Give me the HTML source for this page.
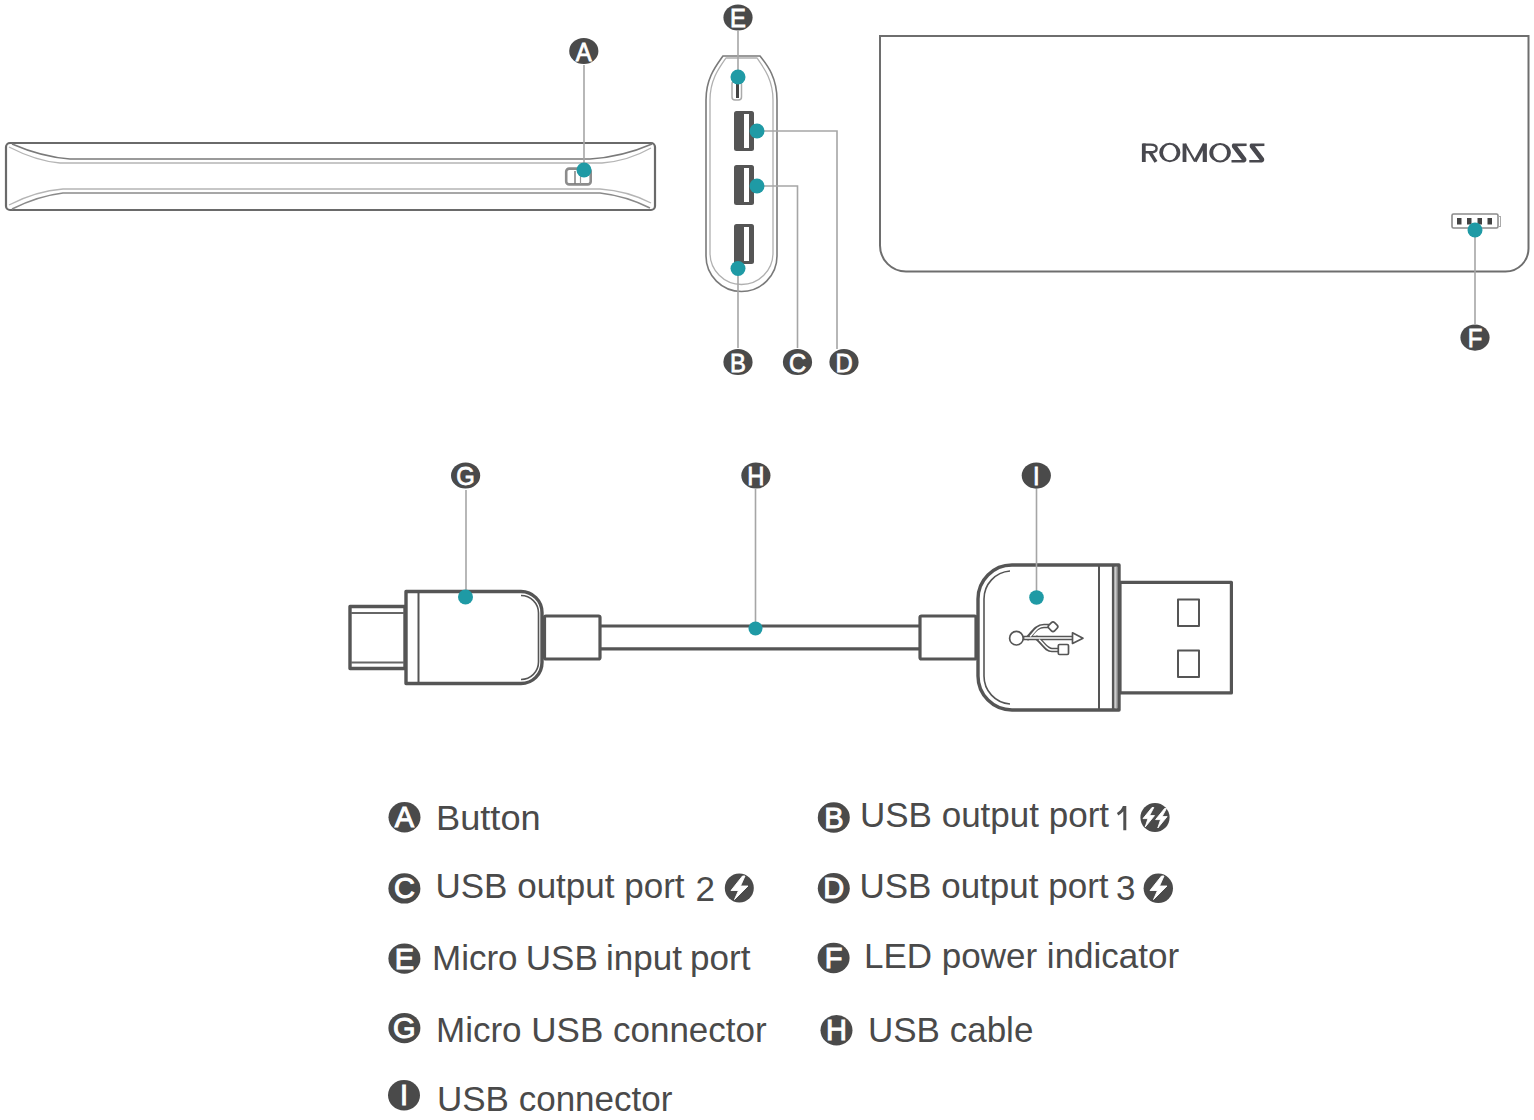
<!DOCTYPE html>
<html><head><meta charset="utf-8">
<style>
html,body{margin:0;padding:0;background:#fff;width:1534px;height:1120px;overflow:hidden;}
svg{display:block;font-family:"Liberation Sans",sans-serif;}
.ln{stroke:#a6a6a6;stroke-width:1.6;fill:none;}
.lc{fill:#4a4a4a;}
.lt{fill:#fff;font-size:26.5px;text-anchor:middle;stroke:#fff;stroke-width:0.8;}
.dot{fill:#1f9aa5;}
.leg{fill:#4a4a4a;font-size:35px;}
.lg{fill:#4a4a4a;}
.lgt{fill:#fff;font-size:29px;text-anchor:middle;stroke:#fff;stroke-width:1.0;}
</style></head>
<body>
<svg width="1534" height="1120" viewBox="0 0 1534 1120">

<!-- ===== Left side bar ===== -->
<g id="bar" fill="none">
  <rect x="6" y="143" width="649" height="67" rx="4" stroke="#6a6a6a" stroke-width="2.2"/>
  <path d="M12 144 Q42 157 70 159 L590 159 Q622 157 652 144" stroke="#7a7a7a" stroke-width="1.6"/>
  <path d="M9 147 Q36 161 60 163 L602 163 Q628 161 651 148" stroke="#b5b5b5" stroke-width="1.4"/>
  <path d="M12 209 Q38 196 63 193 L600 193 Q626 196 650 208" stroke="#8a8a8a" stroke-width="1.6"/>
  <path d="M9 205 Q36 191 63 189 L600 189 Q628 191 651 203" stroke="#b5b5b5" stroke-width="1.4"/>
  <rect x="566.2" y="168.6" width="24.5" height="15.8" rx="3" stroke="#8c8c8c" stroke-width="2.6"/>
  <line x1="575" y1="171" x2="575" y2="184" stroke="#777" stroke-width="1.4"/>
  <line x1="580.5" y1="176" x2="580.5" y2="184" stroke="#999" stroke-width="1.2"/>
</g>
<line class="ln" x1="584" y1="65" x2="584" y2="170"/>
<circle class="dot" cx="584" cy="170" r="7.5"/>
<ellipse class="lc" cx="583.8" cy="51.0" rx="14.6" ry="13.1"/><text class="lt" transform="translate(583.8,60.8) scale(0.9,1)">A</text>

<!-- ===== Middle end view ===== -->
<g fill="none">
  <path d="M706 100 C706 78 716 66 723 56 L760 56 C768 66 777 78 777 100 L777 256 A35.5 35.5 0 0 1 706 256 Z" stroke="#7a7a7a" stroke-width="1.6"/>
  <path d="M710 100 C710 80 719 68 726 58 L757 58 C764 68 773 80 773 100 L773 253 A31.5 31.5 0 0 1 710 253 Z" stroke="#b0b0b0" stroke-width="1.3"/>
</g>
<!-- ports -->
<rect x="732" y="81" width="9.5" height="19" rx="3" fill="none" stroke="#aaa" stroke-width="1.5"/>
<rect x="736" y="84" width="3" height="14" fill="#444"/>
<g>
  <rect x="734" y="111" width="20" height="40" rx="2.5" fill="#555"/>
  <rect x="744" y="114" width="5" height="34" fill="#fff"/>
  <rect x="734" y="165" width="20" height="40" rx="2.5" fill="#555"/>
  <rect x="744" y="168" width="5" height="34" fill="#fff"/>
  <rect x="734" y="224" width="20" height="40" rx="2.5" fill="#555"/>
  <rect x="744" y="227" width="5" height="34" fill="#fff"/>
</g>
<line class="ln" x1="738" y1="31" x2="738" y2="77"/>
<polyline class="ln" points="757,131 837,131 837,349"/>
<polyline class="ln" points="757,186 797.5,186 797.5,348"/>
<line class="ln" x1="738" y1="268" x2="738" y2="348"/>
<circle class="dot" cx="738" cy="77" r="7.5"/>
<circle class="dot" cx="757" cy="131" r="7.5"/>
<circle class="dot" cx="757" cy="186" r="7.5"/>
<circle class="dot" cx="738" cy="268.5" r="7.5"/>
<ellipse class="lc" cx="738.0" cy="17.5" rx="14.6" ry="13.1"/><text class="lt" transform="translate(738.0,27.3) scale(0.9,1)">E</text>
<ellipse class="lc" cx="738.0" cy="362.0" rx="14.6" ry="13.1"/><text class="lt" transform="translate(738.0,371.8) scale(0.9,1)">B</text>
<ellipse class="lc" cx="797.5" cy="362.0" rx="14.6" ry="13.1"/><text class="lt" transform="translate(797.5,371.8) scale(0.9,1)">C</text>
<ellipse class="lc" cx="844.0" cy="362.0" rx="14.6" ry="13.1"/><text class="lt" transform="translate(844.0,371.8) scale(0.9,1)">D</text>

<!-- ===== Right front view ===== -->
<path d="M880 36 L1528.5 36 L1528.5 248 A23 23 0 0 1 1505.5 271.5 L906 271.5 A26 26 0 0 1 880 245.5 Z" fill="none" stroke="#6e6e6e" stroke-width="2"/>
<g fill="none" stroke="#48484e" stroke-linecap="butt">
  <line x1="1143.8" y1="143.5" x2="1143.8" y2="162" stroke-width="3.8"/>
  <path d="M1143 144.6 L1150.5 144.6 Q1156.6 144.6 1156.6 148.4 Q1156.6 152.2 1150.5 152.2 L1143 152.2" stroke-width="2.4"/>
  <line x1="1149.8" y1="152" x2="1156" y2="161.8" stroke-width="3.4"/>
  <path fill="#48484e" stroke="none" fill-rule="evenodd" d="M1159.2 152.5 A10.6 9.7 0 1 0 1180.4 152.5 A10.6 9.7 0 1 0 1159.2 152.5 Z M1163 152.5 A6.8 7.7 0 1 0 1176.6 152.5 A6.8 7.7 0 1 0 1163 152.5 Z"/>
  <line x1="1184.5" y1="143.5" x2="1184.5" y2="162" stroke-width="3.8"/>
  <line x1="1185" y1="144" x2="1195" y2="161.5" stroke-width="2.2"/>
  <line x1="1195" y1="161.5" x2="1204.5" y2="144" stroke-width="3.4"/>
  <line x1="1204.8" y1="143.5" x2="1204.8" y2="162" stroke-width="4.2"/>
  <path fill="#48484e" stroke="none" fill-rule="evenodd" d="M1209.3 152.7 A10.8 9.7 0 1 0 1230.9 152.7 A10.8 9.7 0 1 0 1209.3 152.7 Z M1213.2 152.7 A6.9 7.7 0 1 0 1227 152.7 A6.9 7.7 0 1 0 1213.2 152.7 Z"/>
  <path id="zs" fill="#48484e" stroke="none" d="M1233 143.6 L1246.6 143.6 L1246.6 145.9 L1237.2 146.2 L1246.2 158.2 Q1247.2 161.4 1244.2 162.4 L1231.5 162.4 L1231.5 160.1 L1241.8 160.1 L1232.2 147.6 Q1231.2 144.6 1233 143.6 Z"/>
  <use href="#zs" transform="translate(17.8,0)"/>
</g>
<!-- battery indicator -->
<rect x="1452" y="214" width="46" height="14" rx="1.5" fill="none" stroke="#8a8a8a" stroke-width="1.6"/>
<rect x="1498" y="216.5" width="2.5" height="10" fill="none" stroke="#aaa" stroke-width="1"/>
<rect x="1457" y="218" width="4.5" height="6.5" fill="#444"/>
<rect x="1467" y="218" width="4.5" height="6.5" fill="#444"/>
<rect x="1477.5" y="218" width="4.5" height="6.5" fill="#444"/>
<rect x="1487.5" y="218" width="4.5" height="6.5" fill="#444"/>
<line class="ln" x1="1475" y1="230" x2="1475" y2="324"/>
<circle class="dot" cx="1475" cy="230" r="7.5"/>
<ellipse class="lc" cx="1475.0" cy="337.6" rx="14.6" ry="13.1"/><text class="lt" transform="translate(1475.0,347.4) scale(0.9,1)">F</text>

<!-- ===== Cable ===== -->
<g fill="none" stroke="#555" stroke-linejoin="round">
  <!-- micro tip -->
  <rect x="350" y="606.5" width="55" height="62" stroke-width="3.4"/>
  <line x1="351" y1="613" x2="405" y2="613" stroke-width="2" stroke="#666"/>
  <line x1="351" y1="662.5" x2="405" y2="662.5" stroke-width="2" stroke="#666"/>
  <!-- micro body -->
  <path d="M406 591.5 L521 591.5 A21 21 0 0 1 542 612.5 L542 662.5 A21 21 0 0 1 521 683.5 L406 683.5 Z" stroke-width="3.4"/>
  <line x1="418.5" y1="592" x2="418.5" y2="683" stroke-width="2"/>
  <path d="M521 595.5 A17.5 17.5 0 0 1 538.5 613 L538.5 662 A17.5 17.5 0 0 1 521 679.5" stroke-width="1.6"/>
  <!-- strain relief L -->
  <rect x="544.5" y="616" width="55.5" height="43" rx="1.5" stroke-width="3.2"/>
  <!-- cable -->
  <line x1="600" y1="626" x2="920" y2="626" stroke-width="3.2"/>
  <line x1="600" y1="648.8" x2="920" y2="648.8" stroke-width="3.2"/>
  <!-- strain relief R -->
  <rect x="920" y="616" width="56" height="43" rx="1.5" stroke-width="3.2"/>
  <!-- usb body -->
  <path d="M1119 565 L1012 565 A34 34 0 0 0 978 599 L978 676 A34 34 0 0 0 1012 710 L1119 710 Z" stroke-width="3.4"/>
  <path d="M1010 571 A28 28 0 0 0 984 599 L984 676 A28 28 0 0 0 1010 704" stroke-width="1.6"/>
  <line x1="1099" y1="566" x2="1099" y2="709" stroke-width="2"/>
  <line x1="1113.2" y1="566" x2="1113.2" y2="709" stroke-width="2.6"/>
  <line x1="1116.2" y1="567" x2="1116.2" y2="708" stroke-width="1.6" stroke="#aaa"/>
  <!-- usb metal -->
  <rect x="1120" y="582.3" width="111.4" height="110.6" stroke-width="3.2"/>
  <rect x="1178" y="599.5" width="21" height="26.5" stroke-width="2"/>
  <rect x="1178" y="650.5" width="21" height="26.5" stroke-width="2"/>
</g>
<!-- USB logo -->
<g fill="none" stroke-linejoin="round" stroke-linecap="round">
  <g stroke="#555" stroke-width="4.6">
    <path d="M1023 638 L1072 638"/>
    <path d="M1028 638 C1034 631 1037 626 1044 626 L1049 626"/>
    <path d="M1037 638 C1044 644 1046 650 1052 650 L1058 650"/>
  </g>
  <g stroke="#fff" stroke-width="1.6">
    <path d="M1025 638 L1072 638"/>
    <path d="M1030.5 636 C1035 631 1038 626 1044 626 L1049 626"/>
    <path d="M1039.5 640 C1045 645 1047 650 1052 650 L1058 650"/>
  </g>
  <circle cx="1016.4" cy="638.2" r="6.8" stroke="#555" stroke-width="1.7" fill="#fff"/>
  <path d="M1072.5 632.8 L1083 638.2 L1072.5 643.4 Z" stroke="#555" stroke-width="1.7" fill="#fff"/>
  <rect x="1049" y="622.7" width="8" height="8" rx="2.2" transform="rotate(45 1053 626.7)" stroke="#555" stroke-width="1.7" fill="#fff"/>
  <rect x="1058.3" y="644.5" width="10.2" height="10" rx="1.2" stroke="#555" stroke-width="1.7" fill="#fff"/>
</g>
<line class="ln" x1="466" y1="490" x2="466" y2="597"/>
<line class="ln" x1="755.5" y1="489" x2="755.5" y2="628"/>
<line class="ln" x1="1036.5" y1="489" x2="1036.5" y2="597"/>
<circle class="dot" cx="465.5" cy="597" r="7.5"/>
<circle class="dot" cx="755.5" cy="628.5" r="7"/>
<circle class="dot" cx="1036.5" cy="597.5" r="7.3"/>
<ellipse class="lc" cx="465.6" cy="475.5" rx="14.6" ry="13.1"/><text class="lt" transform="translate(465.6,485.3) scale(0.9,1)">G</text>
<ellipse class="lc" cx="755.9" cy="475.5" rx="14.6" ry="13.1"/><text class="lt" transform="translate(755.9,485.3) scale(0.9,1)">H</text>
<ellipse class="lc" cx="1036.3" cy="475.6" rx="14.6" ry="13.1"/><text class="lt" transform="translate(1036.3,485.4) scale(0.9,1)">I</text>

<!-- ===== Legend ===== -->
<g>
  <ellipse class="lg" cx="404.5" cy="817.3" rx="16" ry="15.2"/><text class="lgt" x="404.5" y="827.3">A</text>
  <text class="leg" transform="translate(436,830) scale(1.035,1)">Button</text>
  <ellipse class="lg" cx="404.4" cy="888.4" rx="16" ry="15.2"/><text class="lgt" x="404.4" y="898.4">C</text>
  <text class="leg" transform="translate(435.5,897.5)">USB output port</text>
  <text class="leg" transform="translate(695.5,901)">2</text>
  <ellipse class="lg" cx="404.4" cy="958.6" rx="16" ry="15.2"/><text class="lgt" x="404.4" y="968.6">E</text>
  <text class="leg" style="word-spacing:-1.5px" transform="translate(432,970)">Micro USB input port</text>
  <ellipse class="lg" cx="404.4" cy="1028.1" rx="16" ry="15.2"/><text class="lgt" x="404.4" y="1038.1">G</text>
  <text class="leg" transform="translate(436,1041.5)">Micro USB connector</text>
  <ellipse class="lg" cx="404" cy="1095.2" rx="16" ry="15.2"/><text class="lgt" x="404" y="1105.2">I</text>
  <text class="leg" transform="translate(437,1111)">USB connector</text>

  <ellipse class="lg" cx="833.8" cy="817.5" rx="16" ry="15.2"/><text class="lgt" x="833.8" y="827.5">B</text>
  <text class="leg" transform="translate(860,827)">USB output port</text>
  <path d="M1124.8 806 L1124.8 830.2 M1117.6 814.2 Q1122.5 811.5 1124.3 806.6" fill="none" stroke="#505050" stroke-width="3"/>
  <ellipse class="lg" cx="833.8" cy="888.2" rx="16" ry="15.2"/><text class="lgt" x="833.8" y="898.2">D</text>
  <text class="leg" transform="translate(859.5,898)">USB output port</text>
  <text class="leg" transform="translate(1116,900.4)">3</text>
  <ellipse class="lg" cx="833.6" cy="958" rx="16" ry="15.2"/><text class="lgt" x="833.6" y="968.0">F</text>
  <text class="leg" transform="translate(864,968)">LED power indicator</text>
  <ellipse class="lg" cx="836.5" cy="1030.3" rx="16" ry="15.2"/><text class="lgt" x="836.5" y="1040.3">H</text>
  <text class="leg" transform="translate(868,1042)">USB cable</text>

  <circle class="lg" cx="739.3" cy="888" r="14.5"/>
  <path d="M742.5 876 L731 890.5 L738.5 890.5 L734.5 899.5 L748 886 L740.5 886 L745 876 Z" fill="#fff" stroke="#fff" stroke-width="0.9" stroke-linejoin="round"/>
  <circle class="lg" cx="1155" cy="817.5" r="14.6"/>
  <path d="M1152 807.5 L1143 818.6 L1148 818.6 L1145.2 827 L1154.5 815.6 L1149.5 815.6 L1153.8 807.5 Z" fill="#fff" stroke="#fff" stroke-width="0.9" stroke-linejoin="round"/>
  <path d="M1164.6 808.5 L1155.6 819.6 L1160.6 819.6 L1157.8 828 L1167.1 816.6 L1162.1 816.6 L1166.4 808.5 Z" fill="#fff" stroke="#fff" stroke-width="0.9" stroke-linejoin="round"/>
  <circle class="lg" cx="1158.3" cy="888.3" r="14.7"/>
  <path d="M1161.5 876 L1150 890.5 L1157.5 890.5 L1153.5 899.5 L1167 886 L1159.5 886 L1164 876 Z" fill="#fff" stroke="#fff" stroke-width="0.9" stroke-linejoin="round"/>
</g>
</svg>
</body></html>
